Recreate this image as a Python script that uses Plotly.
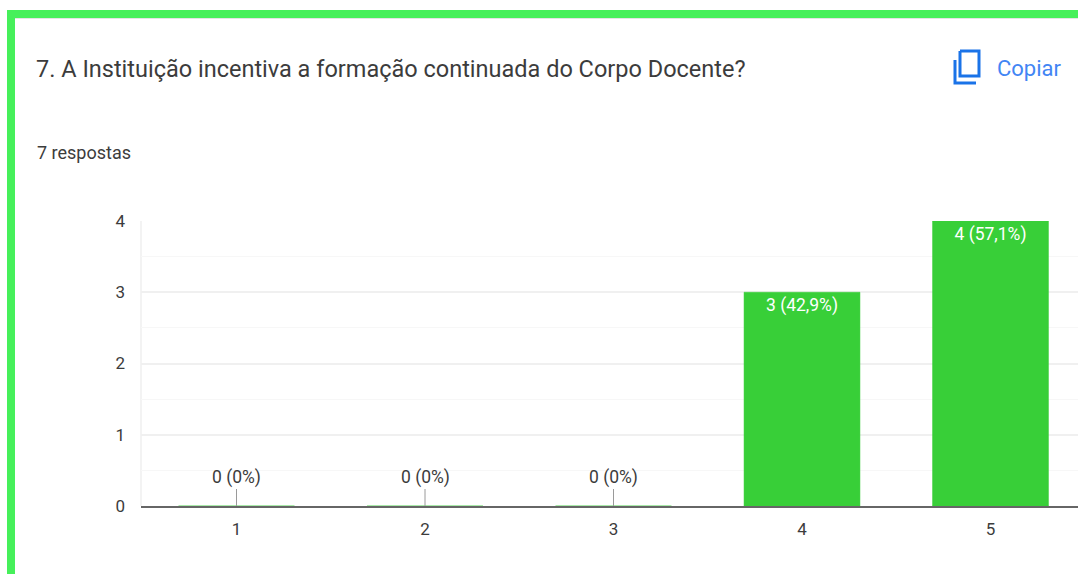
import plotly.graph_objects as go

W, H = 1078, 574
categories = [1, 2, 3, 4, 5]
values = [0, 0, 0, 3, 4]
labels = ["0 (0%)", "0 (0%)", "0 (0%)", "3 (42,9%)", "4 (57,1%)"]
y_ticks = [0, 1, 2, 3, 4]
title_text = "7. A Instituição incentiva a formação continuada do Corpo Docente?"
count_text = "7 respostas"
copy_text = "Copiar"

GREEN = "#38CF38"
FRAME = "#46F05A"
BLUE = "#1A73E8"
TXT = "#3C3C3C"
FONT = "Roboto, Arial, sans-serif"

def px(x):
    return x / W

def py(y):
    return 1 - y / H

fig = go.Figure()
fig.add_bar(
    x=categories,
    y=values,
    width=0.615,
    marker=dict(color=GREEN, line=dict(color=GREEN, width=0.5)),
    text=[t if v > 0 else "" for t, v in zip(labels, values)],
    textposition="inside",
    insidetextanchor="end",
    textangle=0,
    textfont=dict(color="white", size=17.5, family=FONT),
    cliponaxis=False,
    hoverinfo="skip",
)

annotations = []
for c, v, t in zip(categories, values, labels):
    if v == 0:
        annotations.append(dict(
            x=c, y=v, xref="x", yref="y", text=t, showarrow=True,
            arrowhead=0, arrowwidth=1, arrowcolor="#9A9A9A",
            ax=0, ay=-29, standoff=0, startstandoff=0,
            font=dict(size=17.5, color=TXT, family=FONT),
        ))

def label(x, y, text, size, color=TXT, xanchor="left"):
    annotations.append(dict(
        x=px(x), y=py(y), xref="paper", yref="paper", text=text, showarrow=False,
        xanchor=xanchor, yanchor="middle",
        font=dict(size=size, color=color, family=FONT),
    ))

label(34, 69, title_text, 23.5)
label(35, 153, count_text, 18)
label(995, 68, copy_text, 22, "#4285F4")

def rect(x0, y0, x1, y1, color):
    return dict(type="rect", xref="paper", yref="paper", x0=px(x0), x1=px(x1),
                y0=py(y0), y1=py(y1), fillcolor=color, line=dict(width=0), layer="above")

def path(points, color, width=3):
    d = "M" + " L".join(f"{px(a):.5f},{py(b):.5f}" for a, b in points)
    return dict(type="path", xref="paper", yref="paper", path=d,
                line=dict(color=color, width=width), layer="above")

shapes = [
    rect(7, 10, 1078, 18, FRAME),
    rect(7, 10, 15, 574, FRAME),
    rect(15, 18, 1078, 19, "#E4E4E4"),
    # copy icon
    path([(960, 51), (979, 51), (979, 76), (960, 76), (960, 51)], BLUE, 3),
    path([(955, 60), (955, 83), (976, 83)], BLUE, 3),
    # left edge of the plot
    dict(type="line", xref="paper", yref="paper", x0=px(141), x1=px(141),
         y0=py(506), y1=py(221), line=dict(color="#EFEFEF", width=1.5), layer="below"),
]

fig.update_layout(
    width=W, height=H,
    margin=dict(l=0, r=0, t=0, b=0, pad=0),
    paper_bgcolor="white", plot_bgcolor="white",
    showlegend=False,
    font=dict(family=FONT, color=TXT),
    annotations=annotations,
    shapes=shapes,
    xaxis=dict(
        domain=[px(141), 1],
        automargin=False,
        range=[1 - 95.5 / 188.5, 1 + (1078 - 236.5) / 188.5],
        tickmode="array", tickvals=categories, ticktext=[str(c) for c in categories],
        tickfont=dict(size=17, color=TXT, family=FONT),
        ticks="", showgrid=False, zeroline=False,
        showline=True, linecolor="#666666", linewidth=2,
        ticklabelstandoff=7,
    ),
    yaxis=dict(
        domain=[py(506), py(221)],
        automargin=False,
        range=[0, 4],
        tickmode="array", tickvals=y_ticks,
        tickfont=dict(size=17, color=TXT, family=FONT),
        ticks="", showgrid=True, gridcolor="#F0F0F0", gridwidth=1.5,
        zeroline=False, showline=False,
        minor=dict(tickmode="array", tickvals=[0.5, 1.5, 2.5, 3.5],
                   showgrid=True, gridcolor="#F7F7F7", gridwidth=1, ticks=""),
        ticklabelstandoff=15,
    ),
)

fig.write_html("out.html", config=dict(displayModeBar=False),
               post_script="document.body.style.margin='0';document.body.style.overflow='hidden';")
